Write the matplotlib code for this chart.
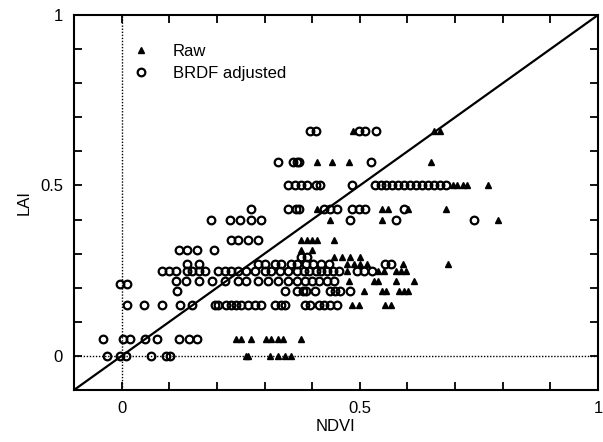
import numpy as np
import matplotlib
matplotlib.use("Agg")
import matplotlib.pyplot as plt

# LAI levels (the data sit on discrete LAI rows) and the NDVI values on each row
lai_levels = [0.0, 0.05, 0.15, 0.19, 0.21, 0.22, 0.25, 0.27, 0.29, 0.31,
              0.34, 0.40, 0.43, 0.50, 0.57, 0.66]

brdf_ndvi = [
    [-0.031, -0.004, 0.010, 0.062, 0.093, 0.102],                       # 0.0
    [-0.039, 0.002, 0.017, 0.050, 0.075, 0.120, 0.141, 0.158],           # 0.05
    [0.012, 0.048, 0.085, 0.122, 0.147, 0.197, 0.203, 0.220, 0.230,
     0.241, 0.251, 0.266, 0.280, 0.293, 0.322, 0.334, 0.344, 0.384,
     0.396, 0.415, 0.425, 0.438, 0.452],                                 # 0.15
    [0.116, 0.342, 0.369, 0.380, 0.388, 0.405, 0.438, 0.448, 0.458,
     0.479],                                                             # 0.19
    [-0.004, 0.012],                                                     # 0.21
    [0.114, 0.135, 0.162, 0.189, 0.218, 0.245, 0.261, 0.286, 0.307,
     0.328, 0.349, 0.369, 0.384, 0.400, 0.415, 0.432, 0.446],            # 0.22
    [0.085, 0.100, 0.114, 0.137, 0.147, 0.162, 0.176, 0.203, 0.218,
     0.230, 0.245, 0.261, 0.280, 0.301, 0.313, 0.332, 0.349, 0.369,
     0.382, 0.394, 0.407, 0.419, 0.432, 0.444, 0.456, 0.494, 0.508,
     0.525],                                                             # 0.25
    [0.137, 0.162, 0.286, 0.301, 0.322, 0.334, 0.355, 0.369, 0.386,
     0.402, 0.419, 0.436, 0.552, 0.566],                                 # 0.27
    [0.376, 0.390],                                                      # 0.29
    [0.120, 0.137, 0.158, 0.193],                                        # 0.31
    [0.230, 0.245, 0.266, 0.286],                                        # 0.34
    [0.187, 0.228, 0.249, 0.272, 0.293, 0.479, 0.577, 0.739],            # 0.40
    [0.272, 0.349, 0.365, 0.373, 0.425, 0.438, 0.452, 0.483, 0.498,
     0.510, 0.593],                                                      # 0.43
    [0.349, 0.363, 0.376, 0.390, 0.407, 0.417, 0.483, 0.531, 0.544,
     0.556, 0.568, 0.581, 0.593, 0.606, 0.618, 0.631, 0.643, 0.656,
     0.668, 0.680],                                                      # 0.50
    [0.328, 0.359, 0.369, 0.373, 0.523],                                 # 0.57
    [0.396, 0.407, 0.498, 0.510, 0.535],                                 # 0.66
]

raw_ndvi = [
    [0.261, 0.266, 0.311, 0.328, 0.342, 0.355],                          # 0.0
    [0.241, 0.251, 0.272, 0.303, 0.313, 0.328, 0.338, 0.376],            # 0.05
    [0.483, 0.498, 0.552, 0.566],                                        # 0.15
    [0.508, 0.546, 0.556, 0.583, 0.593, 0.602],                          # 0.19
    [],                                                                  # 0.21
    [0.477, 0.529, 0.539, 0.577, 0.614],                                 # 0.22
    [0.473, 0.539, 0.550, 0.577, 0.587, 0.598],                          # 0.25
    [0.473, 0.488, 0.500, 0.515, 0.591, 0.685],                          # 0.27
    [0.446, 0.463, 0.479, 0.500],                                        # 0.29
    [0.376, 0.400],                                                      # 0.31
    [0.376, 0.390, 0.400, 0.411, 0.446],                                 # 0.34
    [0.438, 0.546, 0.790],                                               # 0.40
    [0.411, 0.546, 0.560, 0.602, 0.680],                                 # 0.43
    [0.695, 0.705, 0.716, 0.726, 0.770],                                 # 0.50
    [0.411, 0.442, 0.477, 0.649],                                        # 0.57
    [0.485, 0.656, 0.668],                                               # 0.66
]

tick_vals = [0, 0.5, 1]
tick_text = ["0", "0.5", "1"]


def flatten(rows):
    xs, ys = [], []
    for lai, row in zip(lai_levels, rows):
        xs.extend(row)
        ys.extend([lai] * len(row))
    return np.array(xs), np.array(ys)


plt.rcParams['font.family'] = ['Liberation Sans', 'DejaVu Sans']

fig = plt.figure(figsize=(6.03, 4.42), dpi=100)
ax = fig.add_axes([0.1227, 0.1176, 0.869, 0.8484])

ax.set_xlim(-0.1, 1.0)
ax.set_ylim(-0.1, 1.0)

# reference lines
ax.plot([-0.1, 1.0], [-0.1, 1.0], color='black', lw=1.6, zorder=3)
ax.axvline(0, color='black', lw=1.0, ls=(0, (1, 1.2)), zorder=1)
ax.axhline(0, color='black', lw=1.0, ls=(0, (1, 1.2)), zorder=1)

bx, by = flatten(brdf_ndvi)
rx, ry = flatten(raw_ndvi)
ax.plot(rx, ry, ls='none', marker='^', ms=4, color='black',
        label='Raw', zorder=4)
ax.plot(bx, by, ls='none', marker='o', ms=5.5, mfc='none', mec='black',
        mew=1.6, label='BRDF adjusted', zorder=4)

ax.legend(loc='upper left', bbox_to_anchor=(0.096, 0.922), frameon=False,
          numpoints=1, fontsize=12, borderpad=0, borderaxespad=0,
          labelspacing=0.42, handletextpad=0.9)

ticks = np.round(np.arange(-0.1, 1.001, 0.1), 2)
ax.set_xticks(ticks)
ax.set_yticks(ticks)
ax.set_xticklabels([tick_text[tick_vals.index(t)] if t in tick_vals else ""
                    for t in ticks])
ax.set_yticklabels([tick_text[tick_vals.index(t)] if t in tick_vals else ""
                    for t in ticks])
ax.tick_params(direction='in', length=6, width=1.3, top=True, right=True,
               labelsize=12, pad=8)
for s in ax.spines.values():
    s.set_linewidth(1.5)

ax.set_xlabel('NDVI', fontsize=12, labelpad=2)
ax.set_ylabel('LAI', fontsize=12, labelpad=6)

fig.savefig('out.png', dpi=100)
